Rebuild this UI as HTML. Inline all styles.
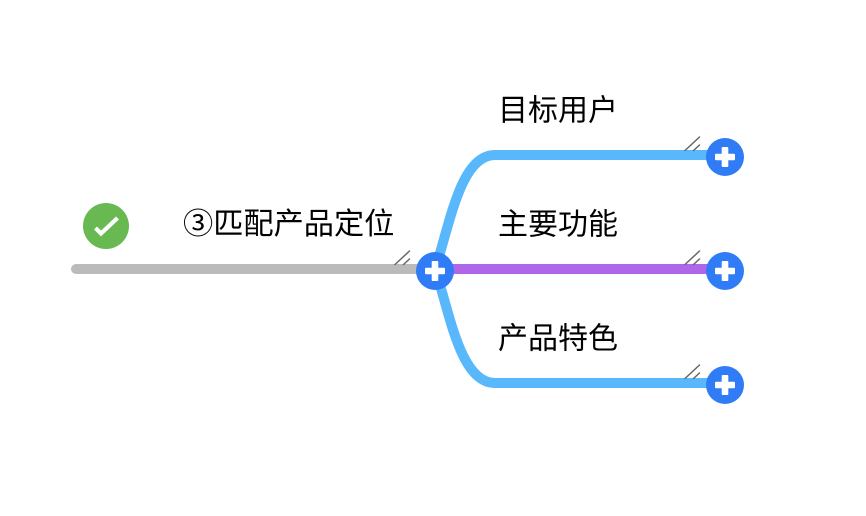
<!DOCTYPE html>
<html lang="zh">
<head>
<meta charset="utf-8">
<style>
html,body{margin:0;padding:0;background:#fff;width:866px;height:516px;overflow:hidden}
svg{display:block}
text{font-family:"Liberation Sans","Noto Sans CJK SC",sans-serif;font-size:30px;fill:#000}
</style>
</head>
<body>
<svg width="866" height="516" viewBox="0 0 866 516" xmlns="http://www.w3.org/2000/svg">
<rect width="866" height="516" fill="#fff"/>
<line x1="76" y1="269" x2="425" y2="269" stroke="#bbbbbb" stroke-width="10" stroke-linecap="round"/>
<path d="M435 269C450 225 460 155 495 155H725" fill="none" stroke="#58b8fb" stroke-width="10"/>
<path d="M435 269C450 313 460 383 495 383H725" fill="none" stroke="#58b8fb" stroke-width="10"/>
<line x1="435" y1="269" x2="725" y2="269" stroke="#b066e8" stroke-width="10"/>
<g stroke="#666" stroke-width="1.500" stroke-linecap="round" fill="none">
<path d="M395 264.500L409.500 251M403.500 264.500L409.500 259"/>
<path d="M685 150.500L699.500 137M693.500 150.500L699.500 145"/>
<path d="M685 264.500L699.500 251M693.500 264.500L699.500 259"/>
<path d="M685 378.500L699.500 365M693.500 378.500L699.500 373"/>
</g>
<g fill="#2f7cf6">
<circle cx="435" cy="271" r="19"/>
<circle cx="725" cy="157" r="19"/>
<circle cx="725" cy="271" r="19"/>
<circle cx="725" cy="385" r="19"/>
</g>
<g fill="#fff">
<rect x="425" y="267.700" width="20" height="6.600" rx="1"/><rect x="431.700" y="261" width="6.600" height="20" rx="1"/>
<rect x="715" y="153.700" width="20" height="6.600" rx="1"/><rect x="721.700" y="147" width="6.600" height="20" rx="1"/>
<rect x="715" y="267.700" width="20" height="6.600" rx="1"/><rect x="721.700" y="261" width="6.600" height="20" rx="1"/>
<rect x="715" y="381.700" width="20" height="6.600" rx="1"/><rect x="721.700" y="375" width="6.600" height="20" rx="1"/>
</g>
<circle cx="106" cy="226" r="23" fill="#68b952"/>
<path d="M95.500 228L101 233.500L117.500 218" fill="none" stroke="#fff" stroke-width="4.200"/>
<text x="183" y="234" style="font-size:30.200px">③匹配产品定位</text>
<text x="498" y="120.500">目标用户</text>
<text x="498" y="234.500">主要功能</text>
<text x="498" y="348.500">产品特色</text>
</svg>
</body>
</html>
